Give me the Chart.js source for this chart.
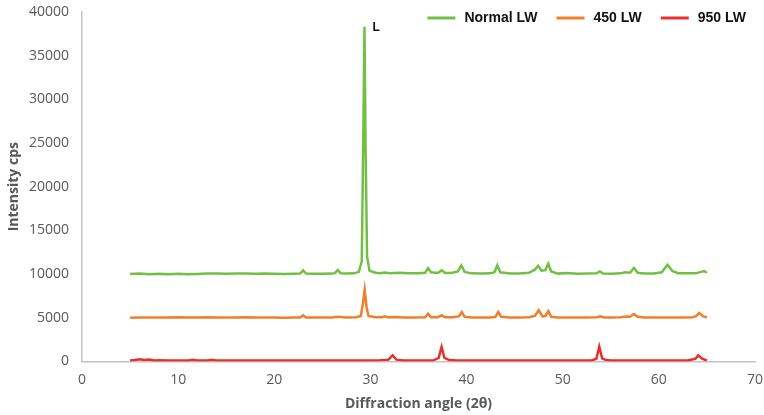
<!DOCTYPE html>
<html>
<head>
<meta charset="utf-8">
<script src="https://cdn.jsdelivr.net/npm/chart.js@4.4.0/dist/chart.umd.min.js"></script>
<style>
html,body{margin:0;padding:0;background:#fff;}
#wrap{width:764px;height:415px;position:relative;}
</style>
</head>
<body>
<div id="wrap"><canvas id="c"></canvas></div>
<script>
const seriesLabels = ["Normal LW", "450 LW", "950 LW"];
const seriesColors = ["#72c043", "#f07e2a", "#e8302b"];

const xTicks = [0, 10, 20, 30, 40, 50, 60, 70];
const yTicks = [0, 5000, 10000, 15000, 20000, 25000, 30000, 35000, 40000];

const normalAngles = [5,6,7,8,9,10,11,12,13,14,15,16,17,18,19,20,21,22,22.7,23.0,23.3,24,25,26,26.3,26.6,26.9,27.5,28.3,28.8,29.1,29.25,29.38,29.5,29.65,29.9,30.5,31.0,31.5,32,33,34,35,35.7,36.0,36.3,37.0,37.4,37.8,38.5,39.1,39.45,39.8,40.5,41.5,42.5,42.9,43.2,43.5,44.5,45.5,46.5,47.1,47.45,47.8,48.2,48.5,48.8,49.5,50.5,51.5,52.5,53.5,53.85,54.2,55,56,56.5,57.0,57.4,57.8,58.5,59.5,60.3,60.9,61.4,62,63,63.8,64.4,64.7,65];
const normalValues = [10000,10050,9980,10040,9990,10020,9980,10010,10050,10060,10040,10050,10060,10030,10050,10040,10020,10040,10050,10420,10060,10030,10040,10050,10100,10450,10100,10050,10080,10250,11500,25000,38300,24000,12000,10400,10150,10100,10180,10100,10150,10100,10080,10150,10680,10200,10120,10420,10120,10150,10300,10990,10250,10080,10050,10080,10200,11000,10200,10060,10050,10150,10500,10950,10400,10450,11170,10300,10050,10120,10040,10050,10080,10300,10060,10040,10080,10200,10150,10700,10150,10050,10060,10200,11060,10350,10100,10080,10080,10250,10340,10150];

const lw450Angles = [5,6,7,8,9,10,11,12,13,14,15,16,17,18,19,20,21,22,22.7,23.0,23.3,24,25,26,26.6,27.5,28.5,29.0,29.2,29.4,29.6,29.8,30.5,31.2,31.5,31.8,32.5,33.5,34.5,35.7,36.0,36.3,37.0,37.4,37.8,38.5,39.2,39.5,39.8,40.5,41.5,42.5,43.0,43.3,43.6,44.5,45.5,46.5,47.1,47.5,47.9,48.2,48.5,48.8,49.5,50.5,51.5,52.5,53.5,53.9,54.3,55,56,56.6,57.0,57.4,57.8,58.5,59.5,60.5,61.5,62.5,63.5,63.9,64.2,64.6,65];
const lw450Values = [5000,5030,5020,5040,5030,5050,5030,5020,5050,5030,5020,5030,5050,5020,5030,5020,5010,5030,5030,5280,5030,5020,5020,5030,5100,5030,5050,5200,6500,8200,6200,5200,5050,5060,5150,5060,5080,5040,5030,5060,5450,5060,5050,5280,5050,5050,5150,5650,5100,5040,5030,5040,5100,5650,5100,5030,5030,5050,5200,5850,5150,5200,5750,5100,5030,5040,5030,5030,5040,5150,5030,5030,5050,5150,5120,5420,5100,5040,5030,5040,5030,5030,5040,5200,5550,5150,5050];

const lw950Angles = [5,5.5,6,6.5,7,7.5,8,9,10,11,11.5,12,13,13.5,14,15,16,17,18,19,20,21,22,23,24,25,26,27,28,29,30,31,31.9,32.3,32.7,33.5,34.5,35.5,36.5,37.1,37.4,37.7,38.2,39,40,41,42,43,44,45,46,47,48,49,50,51,52,53,53.5,53.8,54.1,54.5,55,56,57,58,59,60,61,62,63,63.8,64.1,64.5,65];
const lw950Values = [100,150,250,150,220,100,120,100,110,100,200,100,100,200,100,100,110,100,100,110,100,100,110,100,100,110,100,100,110,100,100,120,200,700,200,110,100,110,100,400,1650,400,150,100,110,100,100,110,100,100,110,100,100,110,100,100,110,100,300,1700,350,150,100,110,100,100,110,100,100,110,100,300,700,300,100];

function pts(a, v){ return a.map((x,i)=>({x:x, y:v[i]})); }

const peakLabel = {
  id: 'peakLabel',
  afterDatasetsDraw(chart){
    const xs = chart.scales.x, ys = chart.scales.y;
    let mi = 0;
    normalValues.forEach((v,i)=>{ if (v > normalValues[mi]) mi = i; });
    const px = xs.getPixelForValue(normalAngles[mi]);
    const py = ys.getPixelForValue(normalValues[mi]);
    const ctx = chart.ctx;
    ctx.save();
    ctx.font = 'bold 12px "Liberation Sans", Arial, sans-serif';
    ctx.fillStyle = '#111';
    ctx.textBaseline = 'middle';
    ctx.fillText('L', px + 8, py + 1);
    ctx.restore();
  }
};

const customLegend = {
  id: 'customLegend',
  afterDraw(chart){
    const ctx = chart.ctx;
    const area = chart.chartArea;
    ctx.save();
    ctx.font = 'bold 14px "Liberation Sans", Arial, sans-serif';
    ctx.textBaseline = 'middle';
    const lineW = 28, gapLT = 9, gapItem = 19;
    let x = area.right - 9;
    const y = area.top + 6;
    for (let i = seriesLabels.length - 1; i >= 0; i--) {
      const tw = ctx.measureText(seriesLabels[i]).width;
      const tx = x - tw;
      ctx.fillStyle = '#111';
      ctx.fillText(seriesLabels[i], tx, y);
      const lx = tx - gapLT - lineW;
      ctx.strokeStyle = seriesColors[i];
      ctx.lineWidth = 3;
      ctx.beginPath();
      ctx.moveTo(lx, y);
      ctx.lineTo(lx + lineW, y);
      ctx.stroke();
      x = lx - gapItem;
    }
    ctx.restore();
  }
};

const tickFont = {family: '"Open Sans", sans-serif', size: 14};
const titleFont = {family: '"Open Sans", sans-serif', size: 14, weight: 'bold'};

new Chart(document.getElementById('c'), {
  type: 'line',
  data: {
    datasets: [
      {label: seriesLabels[0], data: pts(normalAngles, normalValues), borderColor: seriesColors[0], backgroundColor: seriesColors[0]},
      {label: seriesLabels[1], data: pts(lw450Angles, lw450Values), borderColor: seriesColors[1], backgroundColor: seriesColors[1]},
      {label: seriesLabels[2], data: pts(lw950Angles, lw950Values), borderColor: seriesColors[2], backgroundColor: seriesColors[2]}
    ]
  },
  options: {
    responsive: true,
    maintainAspectRatio: false,
    animation: false,
    elements: {
      point: {radius: 0},
      line: {borderWidth: 2.5, tension: 0}
    },
    layout: {padding: {left: 0, right: 9, top: 12, bottom: 0}},
    plugins: {
      tooltip: {enabled: false},
      legend: {display: false}
    },
    scales: {
      x: {
        type: 'linear',
        min: xTicks[0],
        max: xTicks[xTicks.length-1],
        afterBuildTicks(s){ s.ticks = xTicks.map(v=>({value:v})); },
        afterFit(s){ s.paddingRight = 0; s.paddingLeft = 0; s.height -= 3; },
        grid: {display: true, color: 'rgba(0,0,0,0)', drawTicks: false},
        border: {display: true, color: '#c4c4c4', width: 1.5},
        ticks: {color: '#595959', font: tickFont, padding: 10, maxRotation: 0, callback: v => String(v)},
        title: {display: true, text: 'Diffraction angle (2θ)', color: '#595959', font: titleFont, padding: {top: 0, bottom: 3}}
      },
      y: {
        type: 'linear',
        min: yTicks[0],
        max: yTicks[yTicks.length-1],
        afterBuildTicks(s){ s.ticks = yTicks.map(v=>({value:v})); },
        afterFit(s){ s.width = 82; s.paddingTop = 0; s.paddingBottom = 0; },
        grid: {display: true, color: 'rgba(0,0,0,0)', drawTicks: false},
        border: {display: true, color: '#c4c4c4', width: 1.5},
        ticks: {color: '#595959', font: tickFont, padding: 13, callback: v => String(v)},
        title: {display: true, text: 'Intensity cps', color: '#595959', font: titleFont, padding: {top: 6, bottom: 0}}
      }
    }
  },
  plugins: [peakLabel, customLegend]
});
</script>
</body>
</html>
